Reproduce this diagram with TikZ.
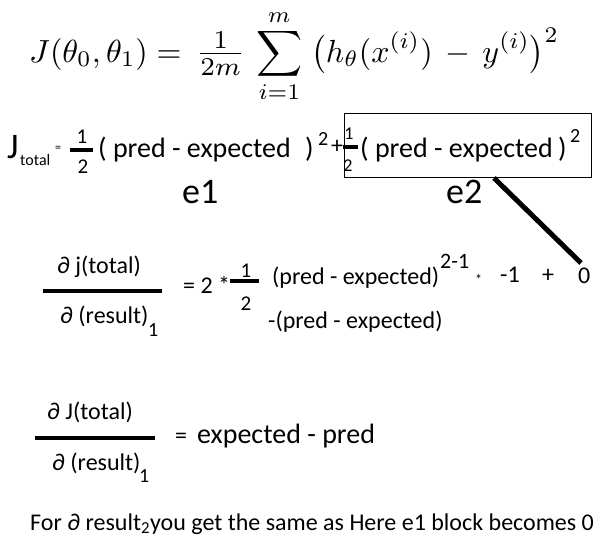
\documentclass[tikz,border=0pt]{standalone}
\usepackage[no-math]{fontspec}
\setmainfont{Carlito}
\usepackage{amsmath,amssymb,graphicx}
\usetikzlibrary{positioning}

\tikzset{
  txt/.style={inner sep=0pt, anchor=base west, font=\fontsize{24}{29}\selectfont},
  num/.style={inner sep=0pt, anchor=base, font=\fontsize{21}{25}\selectfont},
  bigtxt/.style={txt, font=\fontsize{28}{34}\selectfont},
  hugetxt/.style={txt, font=\fontsize{36}{42}\selectfont},
  bar/.style={line width=4pt},
}

\begin{document}
\begin{tikzpicture}[x=1pt, y=-1pt]
  \useasboundingbox[fill=white] (0,0) rectangle (601,543);
  % cost function
  \node[inner sep=0pt, anchor=base west] (cost) at (29,62)
    {\scalebox{3.2}{$\displaystyle J(\theta_0,\theta_1)=\,\raisebox{-0.3pt}{\scalebox{1.15}{$\tfrac{1}{2m}$}}\,\sum_{i=1}^{m}\;\bigl(h_\theta(x^{(i)})\,-\,y^{(i)}\bigr)^{2}$}};
  %
  % J total = e1 + e2
  \node[hugetxt] (jj) at (7,158) {J};
  \node[txt, font=\fontsize{16}{19}\selectfont] (jsub) at (20,165) {total};
  \node[txt, font=\fontsize{12}{14}\selectfont] (jeq) at (55,151) {=};
  \node[num] (ha) at (82,143) {1};
  \draw[bar] (70,150) -- (93,150);
  \node[num] (hb) at (83,173) {2};
  \node[bigtxt] (ea) at (98,157) {( pred - expected};
  \node[bigtxt] (ca) at (305,157) {)};
  \node[txt, font=\fontsize{20}{24}\selectfont] (sa) at (318,145) {2};
  \node[txt] (plus) at (331,153) {+};
  \node[num, font=\fontsize{18}{22}\selectfont] (hc) at (349,139) {1};
  \draw[bar] (343,147) -- (358,147);
  \node[num, font=\fontsize{18}{22}\selectfont] (hd) at (348,171) {2};
  \node[bigtxt] (eb) at (360,157) {( pred - expected};
  \node[bigtxt] (cb) at (558,157) {)};
  \node[txt, font=\fontsize{20}{24}\selectfont] (sb) at (570,142) {2};
  \draw (344,113) rectangle (591,177);
  \node[hugetxt] (eone) at (182,203) {e1};
  \node[hugetxt] (etwo) at (446,203) {e2};
  %
  % first derivative
  \node[txt] (da) at (57,273) {∂ j(total)};
  \draw[bar] (43,291) -- (162,291);
  \node[txt] (db) at (60,323) {∂ (result)};
  \node[txt, font=\fontsize{20}{24}\selectfont] (dbs) at (148,336) {1};
  \node[txt] (eqa) at (183,293) {= 2 *};
  \node[num] (hf) at (246,277) {1};
  \draw[bar] (230,281) -- (259,281);
  \node[num] (hg) at (246,310) {2};
  \node[txt] (pe) at (272,284) {(pred - expected)};
  \node[txt, font=\fontsize{22}{26}\selectfont] (pw) at (440,268) {2-1};
  \node[txt, font=\fontsize{14}{17}\selectfont] (st) at (475,284) {*};
  \node[txt] (mo) at (500,282) {-1};
  \node[txt] (pl) at (542,282) {+};
  \node[txt] (zero) at (578,283) {0};
  \node[txt] (npe) at (268,328) {-(pred - expected)};
  \coordinate (tail) at (494,178);
  \coordinate (tip) at (581,263);
  \draw[line width=5pt] (tail) -- (tip);
  %
  % result
  \node[txt] (dc) at (47,419) {∂ J(total)};
  \draw[bar] (35,438) -- (155,438);
  \node[txt] (dd) at (52,470) {∂ (result)};
  \node[txt, font=\fontsize{20}{24}\selectfont] (dds) at (139,482) {1};
  \node[txt] (eqb) at (175,443) {=};
  \node[bigtxt] (ep) at (197,443) {expected - pred};
  %
  \node[txt] (note) at (30,530)
    {For ∂ result\textsubscript{2}you get the same as Here e1 block becomes 0};
\end{tikzpicture}
\end{document}
